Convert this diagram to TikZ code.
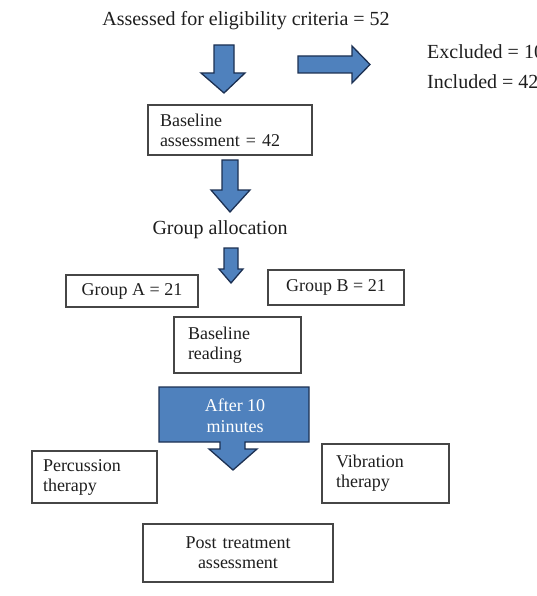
\documentclass[tikz,border=0pt]{standalone}
\usepackage{fontspec}
\setmainfont{Liberation Serif}
\usepackage{tikz}
\usetikzlibrary{arrows.meta}

\definecolor{arrowblue}{RGB}{79,129,189}
\definecolor{arrowedge}{RGB}{28,48,82}
\definecolor{boxedge}{RGB}{70,70,70}
\definecolor{inktext}{RGB}{30,30,30}

\begin{document}
\begin{tikzpicture}[x=1pt,y=-1pt,
    box/.style={draw=boxedge,line width=1.3pt,text=inktext,font=\fontsize{18}{20}\selectfont,inner ysep=0pt},
    label/.style={text=inktext,font=\fontsize{20}{22}\selectfont,inner sep=0pt},
    blockarrow/.style={fill=arrowblue,draw=arrowedge,line width=1.3pt,line join=miter}]
\useasboundingbox (0,0) rectangle (537,596);
\clip (0,0) rectangle (537,596);
%\fill[white] (0,0) rectangle (537,596);

% texts
\node[label] (assessed) at (246,21) {Assessed for eligibility criteria = 52};
\node[label,anchor=west] (excluded) at (427,52) {Excluded = 10};
\node[label,anchor=west] (included) at (427,82) {Included = 42};
\node[label] (allocation) at (220,230) {Group allocation};

% boxes
\node[box,align=left,text width=140pt,inner xsep=12pt,minimum height=50pt] (baseassess) at (230,130) {Baseline\\assessment = 42};
\node[box,minimum width=132pt,minimum height=32pt] (groupA) at (132,291) {Group A = 21};
\node[box,minimum width=136pt,minimum height=35pt] (groupB) at (336,287.5) {Group B = 21};
\node[box,align=left,text width=99pt,inner xsep=14pt,minimum height=56pt] (basereading) at (237.5,345) {Baseline\\reading};
\node[box,align=left,text width=103pt,inner xsep=11pt,minimum height=52pt] (percussion) at (94.5,477) {Percussion\\therapy};
\node[box,align=left,text width=99pt,inner xsep=14pt,minimum height=59pt] (vibration) at (385.5,473.5) {Vibration\\therapy};
\node[box,align=center,text width=170pt,inner xsep=10pt,minimum height=58pt] (posttreat) at (238,553) {Post treatment\\assessment};

% block arrows
\draw[blockarrow] (214,45) -- (234,45) -- (234,73) -- (245,73) -- (224,93) -- (201,73) -- (214,73) -- cycle;
\draw[blockarrow] (298,56) -- (352,56) -- (352,46) -- (370,64.5) -- (352,83) -- (352,73) -- (298,73) -- cycle;
\draw[blockarrow] (222,160) -- (238,160) -- (238,190) -- (250,190) -- (230,212) -- (211,190) -- (222,190) -- cycle;
\draw[blockarrow] (224,248) -- (238,248) -- (238,269) -- (243,269) -- (231,283) -- (219,269) -- (224,269) -- cycle;

% callout with arrow
\draw[blockarrow] (159,387) -- (309,387) -- (309,442) -- (245,442) -- (245,449) -- (257,449)
    -- (233,470) -- (209,449) -- (220,449) -- (220,442) -- (159,442) -- cycle;
\node[text=white,align=center,font=\fontsize{18}{21}\selectfont,inner sep=0pt] (after) at (235,416) {After 10\\minutes};
\end{tikzpicture}
\end{document}
